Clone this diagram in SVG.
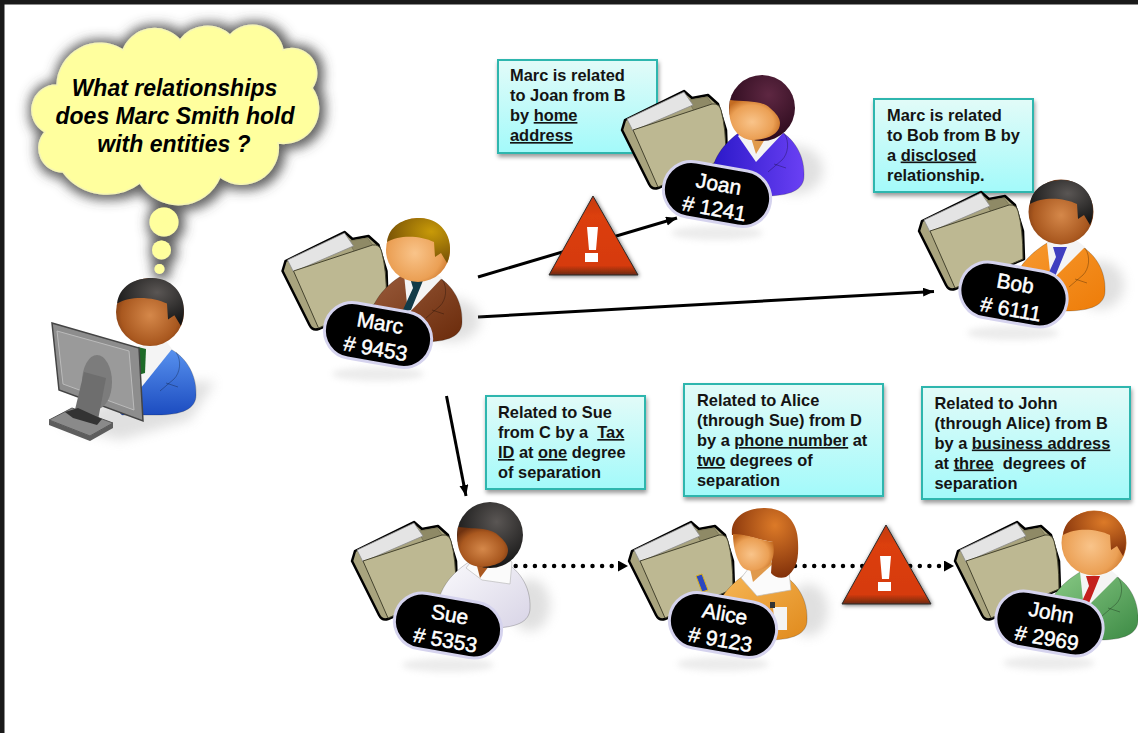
<svg xmlns="http://www.w3.org/2000/svg" width="1138" height="733" viewBox="0 0 1138 733">
<style>
.t{font:bold 16.4px "Liberation Sans",Arial,sans-serif;fill:#141414;white-space:pre}
.u{text-decoration:underline}
.c{font:italic bold 23px "Liberation Sans",Arial,sans-serif;fill:#000;text-anchor:middle}
.b{font:21px "Liberation Sans",Arial,sans-serif;fill:#fff;stroke:#fff;stroke-width:.5;text-anchor:middle}
.pill{fill:#000;stroke:#d5d3ee;stroke-width:3}
.box{fill:url(#boxG);stroke:#2fb6ae;stroke-width:2;filter:url(#ds)}
.arrow{fill:none;stroke:#000;stroke-width:3;marker-end:url(#ah)}
.dots{fill:none;stroke:#000;stroke-width:4.5;stroke-linecap:round;stroke-dasharray:0 9.6}
.shirt{fill:#f4f4f4}
.soft{fill:#9a9a9a;opacity:.3;filter:url(#b6)}
.refl{fill:#a8a8a8;opacity:.22;filter:url(#b3)}
.seam{fill:none;stroke:#000;stroke-opacity:.28;stroke-width:1}
</style>
<defs>
<filter id="ds" x="-10%" y="-10%" width="120%" height="125%"><feDropShadow dx="1" dy="3" stdDeviation="2" flood-color="#000" flood-opacity=".4"/></filter>
<filter id="cs" filterUnits="userSpaceOnUse" x="0" y="0" width="350" height="300">
<feMorphology in="SourceAlpha" operator="dilate" radius="4" result="d"/><feGaussianBlur in="d" stdDeviation="6" result="bl"/><feOffset in="bl" dx="2" dy="1" result="o"/><feFlood flood-color="#444" flood-opacity=".85"/><feComposite in2="o" operator="in" result="s"/><feMerge><feMergeNode in="s"/><feMergeNode in="SourceGraphic"/></feMerge></filter>
<filter id="ts" x="-20%" y="-20%" width="140%" height="140%"><feDropShadow dx="1" dy="1" stdDeviation="2" flood-color="#000" flood-opacity=".55"/></filter>
<filter id="b6" x="-40%" y="-40%" width="180%" height="180%"><feGaussianBlur stdDeviation="6"/></filter>
<filter id="b3" x="-30%" y="-80%" width="160%" height="260%"><feGaussianBlur stdDeviation="3"/></filter>
<linearGradient id="boxG" x1="0" y1="0" x2="0" y2="1"><stop offset="0" stop-color="#e2fbf8"/><stop offset="1" stop-color="#a3fafa"/></linearGradient>
<linearGradient id="triG" x1="0" y1="0" x2="0" y2="1"><stop offset="0" stop-color="#c23a14"/><stop offset=".25" stop-color="#dc3f0c"/><stop offset=".88" stop-color="#d63a08"/><stop offset="1" stop-color="#6b2a14"/></linearGradient>
<radialGradient id="skinL" cx=".45" cy=".55" r=".6"><stop offset="0" stop-color="#f9c48a"/><stop offset=".7" stop-color="#eba055"/><stop offset="1" stop-color="#c46c22"/></radialGradient>
<radialGradient id="skinD" cx=".5" cy=".55" r=".6"><stop offset="0" stop-color="#d5884a"/><stop offset=".7" stop-color="#a9581f"/><stop offset="1" stop-color="#6f3210"/></radialGradient>
<radialGradient id="hBlack" cx=".6" cy=".3" r=".7"><stop offset="0" stop-color="#5a5654"/><stop offset="1" stop-color="#151515"/></radialGradient>
<radialGradient id="hGold" cx=".7" cy=".3" r=".8"><stop offset="0" stop-color="#c89a08"/><stop offset="1" stop-color="#6f4a06"/></radialGradient>
<radialGradient id="hMaroon" cx=".6" cy=".3" r=".7"><stop offset="0" stop-color="#5e2742"/><stop offset="1" stop-color="#2b0a1c"/></radialGradient>
<radialGradient id="hAuburn" cx=".65" cy=".25" r=".8"><stop offset="0" stop-color="#dc7a28"/><stop offset="1" stop-color="#7c2c08"/></radialGradient>
<linearGradient id="jMarc" x1="0" y1="0" x2="1" y2="1"><stop offset="0" stop-color="#9a5c3c"/><stop offset="1" stop-color="#6a2a0a"/></linearGradient>
<linearGradient id="jJoan" x1="0" y1="0" x2="1" y2="0"><stop offset="0" stop-color="#2a18c8"/><stop offset="1" stop-color="#6a40f4"/></linearGradient>
<linearGradient id="jBob" x1="0" y1="0" x2="1" y2="1"><stop offset="0" stop-color="#f79a30"/><stop offset="1" stop-color="#ee7c08"/></linearGradient>
<linearGradient id="jSue" x1="0" y1="0" x2="1" y2="1"><stop offset="0" stop-color="#fbfbfd"/><stop offset="1" stop-color="#d8d4e6"/></linearGradient>
<linearGradient id="jAlice" x1="0" y1="0" x2="1" y2="1"><stop offset="0" stop-color="#f8b95a"/><stop offset="1" stop-color="#e08a1c"/></linearGradient>
<linearGradient id="jJohn" x1="0" y1="0" x2="1" y2="1"><stop offset="0" stop-color="#8ccc88"/><stop offset="1" stop-color="#3c8a44"/></linearGradient>
<linearGradient id="jMe" x1="0" y1="0" x2="0" y2="1"><stop offset="0" stop-color="#5a94f0"/><stop offset="1" stop-color="#1c4cc0"/></linearGradient>
<radialGradient id="bub" cx=".5" cy=".45" r=".55"><stop offset="0" stop-color="#ffff9c"/><stop offset=".88" stop-color="#ffff9e"/><stop offset="1" stop-color="#f8f8ac"/></radialGradient>
<marker id="ah" markerUnits="userSpaceOnUse" markerWidth="12" markerHeight="10" refX="11" refY="4.5" orient="auto"><path d="M0,0 L11,4.5 L0,9 Z" fill="#000"/></marker>
<marker id="ahd" markerUnits="userSpaceOnUse" markerWidth="12" markerHeight="12" refX="10" refY="5.5" orient="auto"><path d="M0,0 L10,5.5 L0,11 Z" fill="#000"/></marker>
<g id="folder">
<path d="M3,30 L0,40 L27,94 Q30,100 36,98 L105,68 L104,40 L96,14 L86,5 L70,8 L62,1 Z" fill="#a9a47e" stroke="#000" stroke-width="2.500" stroke-linejoin="round"/>
<path d="M66,10 L85,7 L91,15 L72,21 Z" fill="#8f8a66" stroke="#6c684c" stroke-width=".6"/>
<path d="M5,29 L62,2 L71,15 L11,41 Z" fill="#e4e4e4" stroke="#8a8a8a" stroke-width=".8"/>
<path d="M11,40 L90,14 Q97,13 99,20 Q104,38 104,68 L36,97 Z" fill="#bdb892" stroke="#45432e" stroke-width="1"/>
</g>
<path id="torso" d="M-49,72 C-46,48 -30,34 -14,24 L14,24 C32,31 45,50 44,72 C44,86 30,92 5,92 L-30,92 Z" stroke="#000" stroke-opacity=".2" stroke-width="1"/>
<path id="lapR" class="seam" d="M24,29 C30,38 28,50 22,56 L8,68 M14,60 L26,64"/>
<path id="manHair" d="M-31,-8 C-29,-24 -15,-32 2,-32 C20,-32 32,-18 32,-2 C32,4 31,9 29,13 L23,3 L17,7 L16,-8 C4,-14 -18,-16 -31,-8 Z"/>
<path id="womanFace" d="M-32,-8 C-18,-6 0,-8 8,0 C14,5 18,10 18,15 C18,25 8,31 -8,32 C-24,32 -36,18 -32,-8 Z"/>
<g id="warn">
<path d="M593,196 L638,275 L549,275 Z" fill="url(#triG)" stroke="#2a2a2a" stroke-width="1" stroke-linejoin="round" filter="url(#ts)"/>
<path d="M587,227 L598,227 L596,250 L589,250 Z M585,253 L598,253 L598,262 L585,262 Z" fill="#fff"/>
</g>
</defs>

<rect width="1138" height="733" fill="#fff"/>
<rect width="1138" height="4.500" fill="#1a1a1a"/>
<rect width="4.500" height="733" fill="#1a1a1a"/>

<g id="thought-cloud" filter="url(#cs)">
<path d="M57,85 A43,43 0 0 1 123,50 A34,34 0 0 1 180,40 A34,34 0 0 1 230,35 A31,31 0 0 1 283,50 A25,25 0 0 1 312,88 A35,35 0 0 1 278,143 A36.500,36.500 0 0 1 220,177 A45,45 0 0 1 140,183 A55,55 0 0 1 63,172 A24,24 0 0 1 45,132 A25,25 0 0 1 57,85 Z" fill="#ffff9e" stroke="#f6f6b4" stroke-width="1.500"/>
<circle cx="164" cy="222" r="14.500" fill="url(#bub)"/>
<circle cx="161.500" cy="250" r="9.500" fill="url(#bub)"/>
<circle cx="159.500" cy="269" r="5" fill="url(#bub)"/>
</g>
<g id="thought-text">
<text class="c" x="174.500" y="96">What relationships</text>
<text class="c" x="175" y="124">does Marc Smith hold</text>
<text class="c" x="174" y="152">with entities ?</text>
</g>

<g id="note-joan"><rect class="box" x="498" y="60" width="159" height="93"/>
<text class="t" x="510" y="81">Marc is related</text><text class="t" x="510" y="101">to Joan from B</text><text class="t" x="510" y="121">by <tspan class="u">home</tspan></text><text class="t" x="510" y="141"><tspan class="u">address</tspan></text></g>
<g id="note-bob"><rect class="box" x="874" y="99" width="159" height="93"/>
<text class="t" x="887" y="120.500">Marc is related</text><text class="t" x="887" y="140.500">to Bob from B by</text><text class="t" x="887" y="160.500">a <tspan class="u">disclosed</tspan></text><text class="t" x="887" y="180.500">relationship.</text></g>
<g id="note-sue"><rect class="box" x="486" y="396" width="159" height="93"/>
<text class="t" x="498" y="418">Related to Sue</text><text class="t" x="498" y="438">from C by a  <tspan class="u">Tax</tspan></text><text class="t" x="498" y="458"><tspan class="u">ID</tspan> at <tspan class="u">one</tspan> degree</text><text class="t" x="498" y="478">of separation</text></g>
<g id="note-alice"><rect class="box" x="684" y="384" width="199" height="112"/>
<text class="t" x="697" y="406">Related to Alice</text><text class="t" x="697" y="426">(through Sue) from D</text><text class="t" x="697" y="446">by a <tspan class="u">phone number</tspan> at</text><text class="t" x="697" y="466"><tspan class="u">two</tspan> degrees of</text><text class="t" x="697" y="485.500">separation</text></g>
<g id="note-john"><rect class="box" x="922" y="387" width="208" height="112"/>
<text class="t" x="934.500" y="408.500">Related to John</text><text class="t" x="934.500" y="428.500">(through Alice) from B</text><text class="t" x="934.500" y="448.500">by a <tspan class="u">business address</tspan></text><text class="t" x="934.500" y="468.500">at <tspan class="u">three</tspan>  degrees of</text><text class="t" x="934.500" y="488.500">separation</text></g>

<g id="connectors">
<path class="arrow" d="M478,277 L677,218"/>
<path class="arrow" d="M478,317 L934,291.500"/>
<path class="arrow" d="M446.500,396 L466,496"/>
<path class="dots" d="M515.700,566 L628,566" marker-end="url(#ahd)"/>
<path class="dots" d="M795,566 L954,566" marker-end="url(#ahd)"/>
</g>

<g id="warning-1"><use href="#warn"/></g>
<g id="warning-2"><use href="#warn" x="293" y="329"/></g>

<g id="user">
<path d="M60,425 L150,380 L215,382 L190,420 L120,440 Z" class="soft"/>
<g transform="translate(152,323)"><use href="#torso" fill="url(#jMe)"/>
<path class="shirt" d="M-14,24 L-12,66 L20,26 L14,18 Z"/><path d="M-14,24 L-6,26 L-7,50 L-14,52 Z" fill="#1d6a28"/>
<use href="#lapR"/></g>
<circle cx="150" cy="312" r="34" fill="url(#skinD)"/>
<use href="#manHair" transform="translate(150,312) scale(1.06)" fill="url(#hBlack)"/>
<path d="M52,323 L139,348 L143,421 L59,390 Z" fill="#8d8d8d" stroke="#444" stroke-width="1.500"/>
<path d="M57,331 L129,351 L134,410 L63,384 Z" fill="#9a9a9a" stroke="#bbb" stroke-width="1"/>
<ellipse cx="97" cy="382" rx="15" ry="27" fill="#7c7c7c"/>
<path d="M84,372 L106,378 L97,425 L73,418 Z" fill="#6e6e6e"/>
<path d="M49,420 L72,408 L113,423 L90,436 Z" fill="#8a8a8a" stroke="#555" stroke-width="1"/>
<path d="M49,420 L90,436 L113,423 L113,428 L90,441 L49,425 Z" fill="#5d5d5d"/>
<path d="M65,412 L73,418 L97,425 L102,419 L78,408 Z" fill="#333"/>
</g>

<g id="node-marc">
<ellipse class="soft" cx="450" cy="320" rx="30" ry="22"/>
<use href="#folder" x="282.500" y="231"/>
<g transform="translate(418,250)"><use href="#torso" fill="url(#jMarc)"/>
<path class="shirt" d="M-14,24 L-10,64 L24,28 L14,20 Z"/><path d="M-8,28 L6,28 L2,38 L-7,60 L-16,62 L-5,38 Z" fill="#123b48"/><use href="#lapR"/></g>
<circle cx="418" cy="250" r="32" fill="url(#skinL)"/>
<use href="#manHair" transform="translate(418,250)" fill="url(#hGold)"/>
<ellipse class="refl" cx="378" cy="374" rx="46" ry="7"/>
<g transform="translate(378,335) rotate(10)"><rect class="pill" x="-54" y="-28" width="108" height="56" rx="28"/>
<text class="b" x="0" y="-5">Marc</text><text class="b" x="0" y="21"># 9453</text></g>
</g>

<g id="node-joan">
<ellipse class="soft" cx="795" cy="170" rx="28" ry="24"/>
<use href="#folder" x="622" y="90"/>
<g transform="translate(760,104)"><use href="#torso" fill="url(#jJoan)"/>
<path class="shirt" d="M-22,32 L-4,58 L24,28 L14,18 L-12,24 Z"/><path d="M-12,24 L-4,50 L14,20 Z" fill="#e09a4c"/><use href="#lapR"/></g>
<circle cx="762" cy="108" r="33" fill="url(#hMaroon)"/>
<use href="#womanFace" transform="translate(762,108)" fill="url(#skinL)"/>
<ellipse class="refl" cx="717" cy="233" rx="46" ry="7"/>
<g transform="translate(717,194) rotate(10)"><rect class="pill" x="-54" y="-28" width="108" height="56" rx="28"/>
<text class="b" x="0" y="-3">Joan</text><text class="b" x="0" y="22"># 1241</text></g>
</g>

<g id="node-bob">
<ellipse class="soft" cx="1100" cy="285" rx="24" ry="24"/>
<use href="#folder" x="919" y="191"/>
<g transform="translate(1061,219)"><use href="#torso" fill="url(#jBob)"/>
<path class="shirt" d="M-14,24 L-10,62 L24,28 L14,20 Z"/><path d="M-8,28 L6,28 L2,38 L-7,60 L-16,62 L-5,38 Z" fill="#3f3fc0"/><use href="#lapR"/></g>
<circle cx="1061" cy="212" r="32.500" fill="url(#skinD)"/>
<use href="#manHair" transform="translate(1061,212)" fill="url(#hBlack)"/>
<ellipse class="refl" cx="1013" cy="333" rx="46" ry="7"/>
<g transform="translate(1013.500,294.500) rotate(10)"><rect class="pill" x="-54" y="-28" width="108" height="56" rx="28"/>
<text class="b" x="0" y="-4">Bob</text><text class="b" x="0" y="22"># 6111</text></g>
</g>

<g id="node-sue">
<ellipse class="soft" cx="530" cy="605" rx="20" ry="26"/>
<use href="#folder" x="352" y="521"/>
<g transform="translate(486,536)"><use href="#torso" fill="url(#jSue)"/>
<path d="M-20,32 L-4,44 L24,48 L26,26 L12,16 L-12,22 Z" fill="#fbfbfb" stroke="#bbb" stroke-width=".7"/><path d="M-12,18 L-6,42 L12,18 Z" fill="#a9581f"/></g>
<circle cx="490" cy="535" r="33" fill="url(#hBlack)"/>
<use href="#womanFace" transform="translate(490,535)" fill="url(#skinD)"/>
<ellipse class="refl" cx="448" cy="665" rx="46" ry="7"/>
<g transform="translate(448,625.500) rotate(10)"><rect class="pill" x="-54" y="-28" width="108" height="56" rx="28"/>
<text class="b" x="0" y="-4">Sue</text><text class="b" x="0" y="22"># 5353</text></g>
</g>

<g id="node-alice">
<ellipse class="soft" cx="808" cy="610" rx="20" ry="26"/>
<use href="#folder" x="629" y="521"/>
<g transform="translate(763,548)"><use href="#torso" fill="url(#jAlice)"/>
<path d="M-22,30 L-6,48 L28,42 L26,24 L14,12 L-14,20 Z" fill="#fbfbfb" stroke="#bbb" stroke-width=".7"/><path d="M-14,16 L-10,34 L12,14 Z" fill="#e09a4c"/><path d="M10,59 L24,59 L24,82 L12,82 Z" fill="#f4f4f4"/><path d="M7,54 L12,54 L12,60 L7,60 Z" fill="#333"/></g>
<path d="M696,576 L702,574 L708,590 L702,592 Z" fill="#2b48c0" stroke="#d8b020" stroke-width="1"/>
<path d="M732,535 C730,518 745,508 765,508 C785,508 798,522 798,542 C799,560 796,570 786,577 C780,579 774,577 771,573 L773,542 C760,540 745,534 732,535 Z" fill="url(#hAuburn)"/>
<path d="M733,534 C746,534 760,540 773,542 C775,552 773,562 768,566 C756,574 743,572 739,562 C735,554 733,544 733,534 Z" fill="url(#skinL)"/>
<ellipse class="refl" cx="723" cy="664" rx="46" ry="7"/>
<g transform="translate(723,625) rotate(10)"><rect class="pill" x="-54" y="-28" width="108" height="56" rx="28"/>
<text class="b" x="0" y="-4">Alice</text><text class="b" x="0" y="22"># 9123</text></g>
</g>

<g id="node-john">
<use href="#folder" x="955" y="521"/>
<g transform="translate(1094,548)"><use href="#torso" fill="url(#jJohn)"/>
<path class="shirt" d="M-14,24 L-10,62 L24,28 L14,20 Z"/><path d="M-8,28 L6,28 L2,38 L-7,60 L-16,62 L-5,38 Z" fill="#c4201c"/><use href="#lapR"/></g>
<circle cx="1094" cy="543" r="32.500" fill="url(#skinL)"/>
<use href="#manHair" transform="translate(1094,543)" fill="url(#hAuburn)"/>
<ellipse class="refl" cx="1049" cy="663" rx="46" ry="7"/>
<g transform="translate(1049.500,623.500) rotate(10)"><rect class="pill" x="-54" y="-28" width="108" height="56" rx="28"/>
<text class="b" x="0" y="-4">John</text><text class="b" x="0" y="22"># 2969</text></g>
</g>
</svg>
